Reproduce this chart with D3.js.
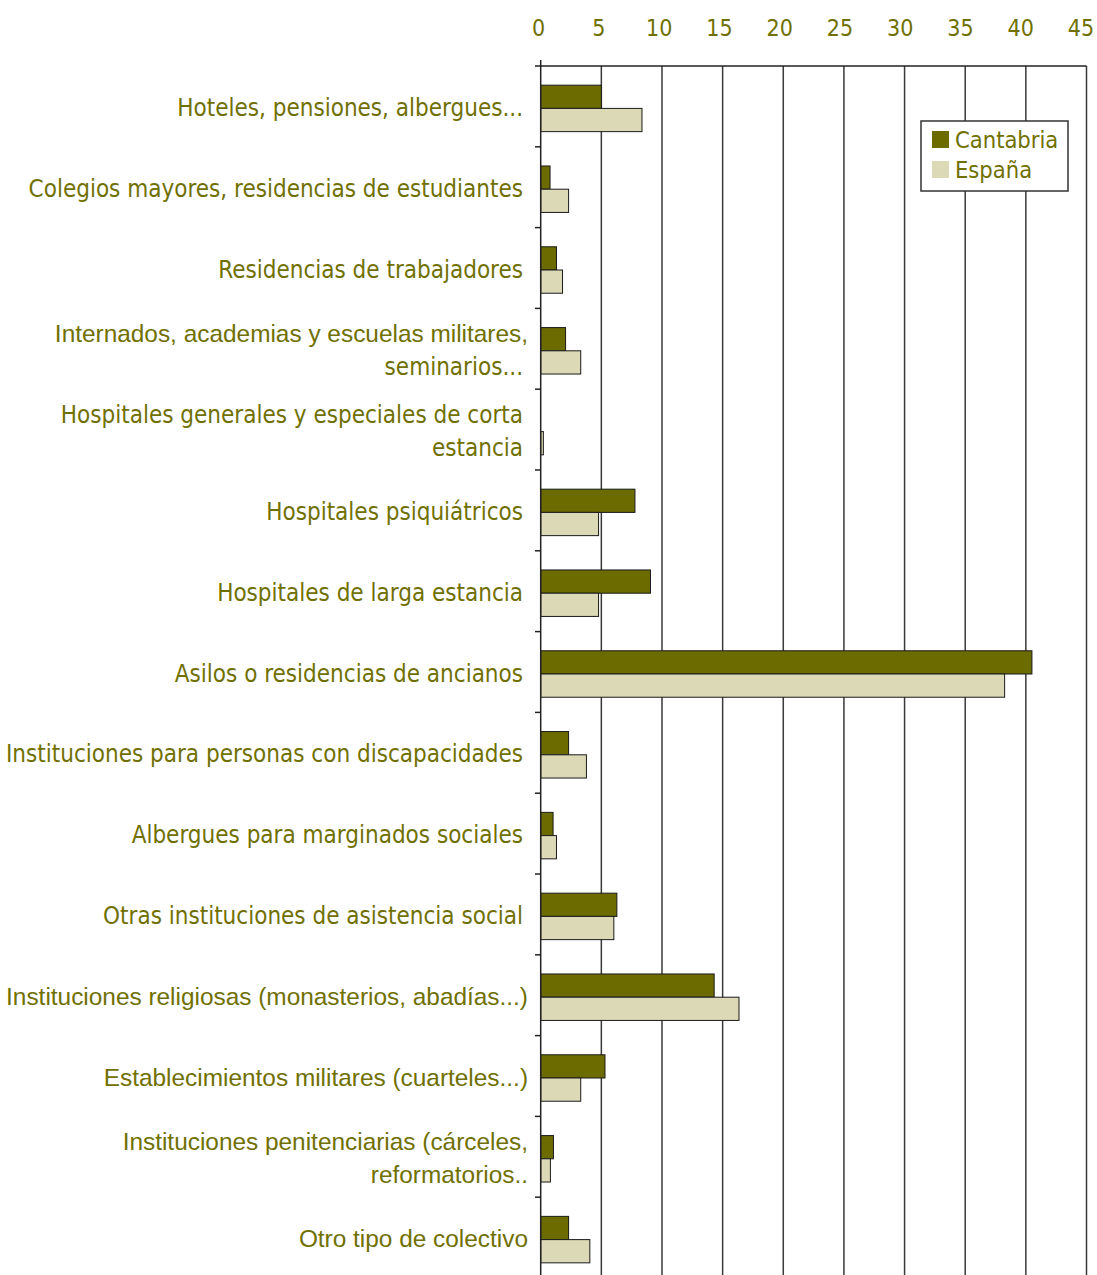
<!DOCTYPE html>
<html><head><meta charset="utf-8">
<script src="https://cdn.jsdelivr.net/npm/d3@7"></script>
<style>
body{margin:0;background:#fff}
text{fill:#707000}
</style></head>
<body><div class="graf"></div>
<script>
// datos (% de población en establecimientos colectivos)
const categorias = [
  ['Hoteles, pensiones, albergues...'],
  ['Colegios mayores, residencias de estudiantes'],
  ['Residencias de trabajadores'],
  ['Internados, academias y escuelas militares,', 'seminarios...'],
  ['Hospitales generales y especiales de corta', 'estancia'],
  ['Hospitales psiquiátricos'],
  ['Hospitales de larga estancia'],
  ['Asilos o residencias de ancianos'],
  ['Instituciones para personas con discapacidades'],
  ['Albergues para marginados sociales'],
  ['Otras instituciones de asistencia social'],
  ['Instituciones religiosas (monasterios, abadías...)'],
  ['Establecimientos militares (cuarteles...)'],
  ['Instituciones penitenciarias (cárceles,', 'reformatorios..'],
  ['Otro tipo de colectivo']
];
const series = ['Cantabria', 'España'];
const cantabria = [5.0, 0.77, 1.3, 2.05, 0, 7.77, 9.05, 40.5, 2.3, 1.02, 6.28, 14.3, 5.3, 1.05, 2.3];
const espana    = [8.35, 2.3, 1.8, 3.3, 0.22, 4.77, 4.77, 38.25, 3.77, 1.3, 6.03, 16.35, 3.3, 0.8, 4.05];
const xTicks = [0, 5, 10, 15, 20, 25, 30, 35, 40, 45];

// lineas que en el original salen en otra fuente (tipo Arial)
const lineasArial = new Set([
  'Internados, academias y escuelas militares,',
  'Instituciones religiosas (monasterios, abadías...)',
  'Establecimientos militares (cuarteles...)',
  'Instituciones penitenciarias (cárceles,',
  'reformatorios..',
  'Otro tipo de colectivo'
]);

const width = 1097, height = 1275;
const colores = {Cantabria: '#6b6b00', 'España': '#dcd9b6'};
const FONT = '"DejaVu Sans Condensed", "DejaVu Sans", sans-serif';
const FONT2 = '"Liberation Sans", Arial, sans-serif';

const svg = d3.select('.graf').append('svg')
    .attr('width', width)
    .attr('height', height);

const x = d3.scaleLinear().domain([0, 45]).range([540.7, 1086.5]);
const y = d3.scaleBand().domain(d3.range(categorias.length))
    .range([66, 1278]).paddingInner(0.425).paddingOuter(0.2125);
const ySub = d3.scaleBand().domain(series).range([0, y.bandwidth()]);

// rejilla vertical
svg.append('g').selectAll('line').data(xTicks.slice(1)).join('line')
    .attr('x1', d => x(d)).attr('x2', d => x(d))
    .attr('y1', 66).attr('y2', height)
    .attr('stroke', '#3a3a3a').attr('stroke-width', 1.5);

// etiquetas eje x (arriba)
svg.append('g').selectAll('text').data(xTicks).join('text')
    .attr('x', d => x(d) - 2 - d * 0.08).attr('y', 36)
    .attr('text-anchor', 'middle')
    .style('font-family', FONT).style('font-size', '23px')
    .text(d => d);

// barras
const filas = categorias.map((c, i) => ({i, vals: [cantabria[i], espana[i]]}));
const gF = svg.append('g').selectAll('g').data(filas).join('g')
    .attr('transform', d => `translate(0,${y(d.i) + 2})`);
gF.selectAll('rect').data(d => d.vals.map((v, k) => ({s: series[k], v}))).join('rect')
    .filter(d => d.v > 0)
    .attr('x', x(0))
    .attr('y', d => ySub(d.s))
    .attr('width', d => x(d.v) - x(0))
    .attr('height', ySub.bandwidth())
    .attr('fill', d => colores[d.s])
    .attr('stroke', '#1a1a1a').attr('stroke-width', 1);

// ejes
svg.append('line').attr('x1', 535).attr('x2', x(45)).attr('y1', 66).attr('y2', 66)
    .attr('stroke', '#222').attr('stroke-width', 1.5);
svg.append('line').attr('x1', x(0)).attr('x2', x(0)).attr('y1', 60).attr('y2', height)
    .attr('stroke', '#222').attr('stroke-width', 1.5);
svg.append('g').selectAll('line').data(d3.range(1, categorias.length)).join('line')
    .attr('x1', 535).attr('x2', x(0))
    .attr('y1', d => 66 + d * y.step()).attr('y2', d => 66 + d * y.step())
    .attr('stroke', '#222').attr('stroke-width', 1.5);

// etiquetas de categoria
const gL = svg.append('g').selectAll('g').data(categorias).join('g')
    .attr('transform', (d, i) => `translate(0,${y(i) + y.bandwidth() / 2 + 1})`);
gL.each(function (lineas) {
  const g = d3.select(this);
  const lh = 33;
  lineas.forEach((l, k) => {
    const arial = lineasArial.has(l);
    g.append('text')
      .attr('x', arial ? 528 : 523)
      .attr('y', (k - (lineas.length - 1) / 2) * lh)
      .attr('dy', '0.36em')
      .attr('text-anchor', 'end')
      .style('font-family', arial ? FONT2 : FONT)
      .style('font-size', arial ? '24.4px' : '24px')
      .text(l);
  });
});

// leyenda
const leg = svg.append('g').attr('transform', 'translate(921,121)');
leg.append('rect').attr('width', 147).attr('height', 70)
    .attr('fill', '#fff').attr('stroke', '#333').attr('stroke-width', 1.5);
leg.selectAll('g').data(series).join('g')
    .attr('transform', (d, i) => `translate(11,${10 + i * 30})`)
    .call(g => g.append('rect').attr('width', 17).attr('height', 17)
        .attr('fill', d => colores[d]))
    .call(g => g.append('text').attr('x', 23).attr('y', 9).attr('dy', '0.36em')
        .style('font-family', FONT).style('font-size', '23.5px').text(d => d));
</script></body></html>
